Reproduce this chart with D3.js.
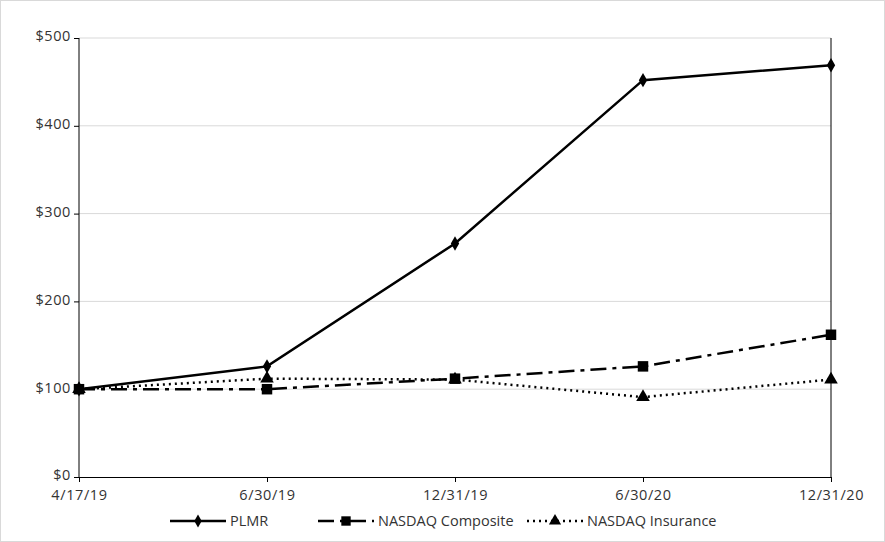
<!DOCTYPE html><html><head><script src="https://cdn.jsdelivr.net/npm/d3@7"></script>
<style>body{margin:0;background:#fff}text{font-family:"Open Sans",Calibri,sans-serif;font-size:14px;fill:#333}</style></head><body>
<svg id="c" width="885" height="542"></svg>
<script>
const categories=["4/17/19","6/30/19","12/31/19","6/30/20","12/31/20"];
const plmr=[100,126,266,452,469];
const composite=[100,100,112,126,162];
const insurance=[100,112,111,91,111];
const yTicks=[0,100,200,300,400,500];
const svg=d3.select("#c");
svg.append("rect").attr("x",0.5).attr("y",0.5).attr("width",884).attr("height",541).attr("fill","#fff").attr("stroke","#d9d9d9");
const x=d3.scalePoint().domain(categories).range([79,831]);
const y=d3.scaleLinear().domain([0,500]).range([477,38]);
svg.append("g").selectAll("line").data(yTicks.slice(1)).join("line").attr("x1",79).attr("x2",831).attr("y1",d=>y(d)).attr("y2",d=>y(d)).attr("stroke","#d9d9d9");
const ya=svg.append("g").attr("transform","translate(79,0)").call(d3.axisLeft(y).tickValues(yTicks).tickFormat(d=>"$"+d).tickSize(5));
const xa=svg.append("g").attr("transform","translate(0,477)").call(d3.axisBottom(x).tickSize(5));
[ya,xa].forEach(a=>{a.selectAll("path,line").attr("stroke","#000");a.selectAll("text").style("font-size","14.5px").style("letter-spacing","0.6px").attr("fill","#333");});
ya.select(".domain").attr("d","M0,477V38");
ya.selectAll(".tick text").attr("dy","0.2em");
xa.selectAll(".tick text").attr("dy","1.0em");
svg.append("line").attr("x1",831).attr("x2",831).attr("y1",38).attr("y2",477).attr("stroke","#000");
const series=[
 {name:"PLMR",v:plmr,dash:null,shape:d3.symbolDiamond,size:60},
 {name:"NASDAQ Composite",v:composite,dash:"16,6,4,6",shape:d3.symbolSquare,size:110},
 {name:"NASDAQ Insurance",v:insurance,dash:"2,4",shape:d3.symbolTriangle,size:80}];
const line=d3.line().x((d,i)=>x(categories[i])).y(d=>y(d));
series.forEach(s=>{
 svg.append("path").attr("d",line(s.v)).attr("fill","none").attr("stroke","#000").attr("stroke-width",2.5).attr("stroke-dasharray",s.dash);
 svg.append("g").selectAll("path").data(s.v).join("path").attr("d",d3.symbol(s.shape,s.size)).attr("transform",(d,i)=>`translate(${x(categories[i])},${y(d)})`).attr("fill","#000");
});
const lx=[170,318,527];
series.forEach((s,i)=>{
 const g=svg.append("g").attr("transform",`translate(${lx[i]},521)`);
 g.append("line").attr("x1",0).attr("x2",56).attr("stroke","#000").attr("stroke-width",2.5).attr("stroke-dasharray",s.dash);
 g.append("path").attr("d",d3.symbol(s.shape,s.size*0.8)).attr("transform","translate(28,0)");
 g.append("text").attr("x",60).attr("dy","0.35em").style("font-size","14.5px").text(s.name);
});
</script></body></html>
